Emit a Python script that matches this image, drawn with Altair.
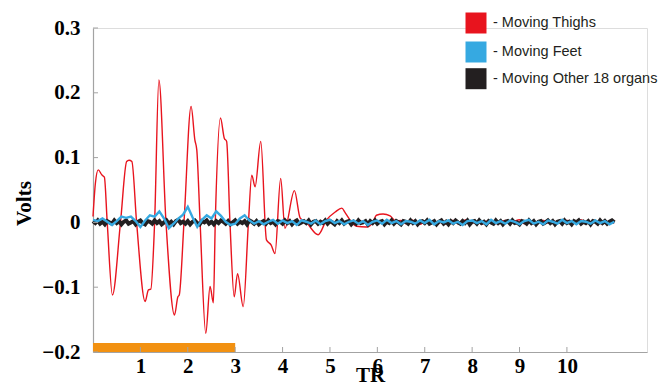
import altair as alt
import pandas as pd

# ---------------- data ----------------
series_names = ["- Moving Thighs", "- Moving Feet", "- Moving Other 18 organs"]
series_colors = ["#e8141e", "#36a9e1", "#231f20"]

x_ticks = [1, 2, 3, 4, 5, 6, 7, 8, 9, 10]
y_ticks = [-0.2, -0.1, 0.0, 0.1, 0.2, 0.3]

# stimulus bar (TR 0..3)
bar_x = [0.0]
bar_x2 = [3.0]
bar_y = [-0.2]
bar_y2 = [-0.186]

# red (thighs) key points
red_x = [0.0, 0.05, 0.11, 0.19, 0.24, 0.30, 0.41, 0.58, 0.71, 0.76, 0.82, 0.92,
         1.10, 1.17, 1.22, 1.30, 1.39, 1.54, 1.72, 1.79, 1.82, 1.92, 2.07, 2.15,
         2.19, 2.26, 2.38, 2.47, 2.54, 2.58, 2.69, 2.77, 2.82, 2.89, 2.98, 3.05,
         3.17, 3.28, 3.35, 3.42, 3.54, 3.66, 3.76, 3.84, 3.96, 4.05, 4.25, 4.37,
         4.51, 4.75, 4.93, 5.11, 5.25, 5.32, 5.42, 5.56, 5.77, 5.91, 5.98, 6.12,
         6.27, 6.39]
red_y = [0.009, 0.060, 0.081, 0.073, 0.070, 0.0, -0.112, 0.0, 0.094, 0.096, 0.094, 0.0,
         -0.122, -0.104, -0.103, 0.0, 0.220, 0.0, -0.143, -0.115, -0.112, 0.0, 0.179, 0.127,
         0.112, 0.0, -0.171, -0.099, -0.124, 0.0, 0.161, 0.130, 0.125, 0.0, -0.115, -0.079,
         -0.130, 0.0, 0.073, 0.055, 0.125, -0.027, -0.035, -0.048, 0.068, -0.009, 0.049, 0.007,
         -0.001, -0.019, 0.004, 0.016, 0.022, 0.015, 0.004, -0.006, -0.007, 0.001, 0.011, 0.013,
         0.010, 0.002]
# red tail, TR 6.5 .. 11.0 in steps of 0.1
red_tail = [0.003, -0.002, 0.004, 0.001, -0.003, 0.002, 0.003, -0.001, 0.002, -0.003,
            0.001, 0.003, -0.002, 0.002, 0.004, -0.001, 0.001, -0.003, 0.002, 0.003,
            -0.002, 0.001, 0.003, -0.001, 0.002, 0.004, -0.002, 0.001, -0.003, 0.002,
            0.003, -0.001, 0.002, 0.001, -0.002, 0.003, 0.002, -0.001, 0.004, -0.002,
            0.001, 0.003, -0.002, 0.002, 0.001, -0.001]

# blue (feet), TR 0.0 .. 11.0 in steps of 0.1
blue_y = [0.004, 0.002, 0.006, 0.001, -0.004, 0.002, 0.009, 0.007, 0.009, 0.002,
          -0.007, 0.003, 0.011, 0.009, 0.017, 0.006, -0.009, -0.002, 0.006, 0.012,
          0.024, 0.008, -0.007, 0.004, 0.011, 0.006, 0.017, 0.010, 0.001, -0.004,
          -0.002, 0.006, 0.011, 0.003, -0.002,
          0.002, -0.003, 0.001, 0.004, -0.002, 0.003, -0.001, 0.002, -0.004, 0.003,
          0.001, -0.002, 0.003, -0.003, 0.002, 0.004, -0.001, 0.002, -0.003, 0.001,
          0.003, -0.002, 0.002, -0.004, 0.001, 0.003, -0.002, 0.004, -0.001, 0.002,
          -0.003, 0.002, 0.001, -0.002, 0.003, -0.001, 0.004, -0.003, 0.002, 0.000,
          0.003, -0.002, 0.001, -0.004, 0.002, 0.003, -0.001, 0.002, -0.003, 0.004,
          -0.001, 0.002, -0.002, 0.003, 0.001, -0.003, 0.002, 0.004, -0.002, 0.001,
          -0.003, 0.003, 0.001, -0.002, 0.004, -0.001, 0.002, -0.003, 0.002, 0.001,
          -0.002, 0.003, -0.001, 0.002, -0.003, 0.001]

# black (other organs), TR 0.0 .. 11.0 in steps of 0.05
black_y = [0.002, -0.001, 0.003, -0.002, 0.001, -0.003, 0.002, 0.000, -0.002, 0.003,
           -0.001, 0.002, -0.003, 0.001, 0.003, -0.002, 0.000, 0.002, -0.003, 0.001,
           0.003, -0.001, -0.003, 0.002, 0.001, -0.002, 0.003, -0.001, 0.002, -0.003,
           0.000, 0.003, -0.002, 0.001, -0.003, 0.002, 0.004, -0.001, 0.001, -0.002,
           0.002, -0.003, 0.001, 0.003, -0.001, -0.003, 0.002, 0.000, 0.003, -0.002,
           0.001, -0.003, 0.002, -0.001, 0.003, 0.001, -0.002, 0.002, -0.003, 0.000,
           0.003, -0.002, 0.001, -0.001, 0.002, -0.003, 0.003, 0.001, -0.002, 0.002,
           -0.003, 0.000, 0.002, -0.002, 0.003, -0.001, 0.001, -0.003, 0.002, 0.001,
           -0.002, 0.003, -0.001, 0.002, -0.003, 0.001, 0.003, -0.002, 0.000, 0.002,
           -0.001, 0.003, -0.003, 0.001, 0.002, -0.002, 0.001, -0.001, 0.003, -0.002,
           0.002, 0.000, -0.003, 0.002, -0.001, 0.003, -0.002, 0.001, 0.002, -0.003,
           0.001, -0.002, 0.003, -0.001, 0.000, 0.002, -0.003, 0.002, -0.001, 0.003,
           -0.002, 0.001, 0.002, -0.003, 0.001, -0.001, 0.003, -0.002, 0.002, 0.000,
           -0.003, 0.002, 0.001, -0.002, 0.003, -0.001, 0.002, -0.003, 0.001, 0.002,
           -0.001, 0.003, -0.002, 0.000, 0.002, -0.003, 0.001, 0.003, -0.002, 0.001,
           -0.003, 0.002, -0.001, 0.003, 0.000, -0.002, 0.002, -0.001, 0.003, -0.003,
           0.001, 0.002, -0.002, 0.003, -0.001, 0.001, -0.003, 0.002, 0.000, -0.002,
           0.003, -0.001, 0.002, -0.003, 0.001, 0.002, -0.002, 0.003, -0.001, 0.000,
           -0.003, 0.002, 0.001, -0.002, 0.003, -0.001, 0.002, -0.003, 0.001, 0.002,
           -0.002, 0.000, 0.003, -0.001, 0.002, -0.003, 0.001, 0.002, -0.002, 0.003,
           -0.001, 0.001, -0.003, 0.002, 0.000, 0.003, -0.002, 0.001, -0.001, 0.002,
           -0.003, 0.002, 0.001, -0.002, 0.003, -0.001, 0.002, -0.002, 0.001, 0.003,
           0.000]

blue_x = [round(i * 0.1, 2) for i in range(len(blue_y))]
black_x = [round(i * 0.05, 2) for i in range(len(black_y))]
tail_x = [round(6.5 + i * 0.1, 2) for i in range(len(red_tail))]

red_df = pd.DataFrame({"x": red_x + tail_x, "y": red_y + red_tail})
blue_df = pd.DataFrame({"x": blue_x, "y": blue_y})
black_df = pd.DataFrame({"x": black_x, "y": black_y})
bar_df = pd.DataFrame({"x": bar_x, "x2": bar_x2, "y": bar_y, "y2": bar_y2})
xt_df = pd.DataFrame({"x": x_ticks})
yt_df = pd.DataFrame({"y": y_ticks})

# ---------------- style ----------------
W, H = 554, 324
AX = "#a3a3a3"
SERIF = "Liberation Serif"

xaxis = alt.Axis(values=x_ticks, title="TR", ticks=False, tickSize=0, grid=False,
                 domainColor=AX, domainWidth=1.2, labelFont=SERIF, labelFontWeight="bold",
                 labelFontSize=21, labelColor="black", labelPadding=20,
                 labelBaseline="alphabetic", labelOverlap=False, labelFlush=False,
                 titleFont=SERIF, titleFontSize=21, titleFontWeight="bold",
                 titleColor="black", titleY=29, titleBaseline="alphabetic")
yaxis = alt.Axis(values=y_ticks, title="Volts", ticks=False, tickSize=0, grid=False,
                 domainColor=AX, domainWidth=1.2, labelFont=SERIF, labelFontWeight="bold",
                 labelFontSize=21, labelColor="black", labelPadding=13,
                 labelOverlap=False, labelFlush=False,
                 labelExpr="datum.value == 0 ? '0' : format(datum.value, '.1f')",
                 titleFont=SERIF, titleFontSize=21, titleFontWeight="bold",
                 titleColor="black", titleX=-69, titleY=175, titleAngle=270,
                 titleAlign="center", titleBaseline="middle")

xs = alt.Scale(domain=[0, 11.69], nice=False, zero=False)
ys = alt.Scale(domain=[-0.2, 0.3], nice=False, zero=False)


def X(f="x"):
    return alt.X(f + ":Q", scale=xs, axis=xaxis)


def Y(f="y"):
    return alt.Y(f + ":Q", scale=ys, axis=yaxis)


bar = alt.Chart(bar_df).mark_rect(color="#f29111").encode(
    x=X(), x2="x2:Q", y=Y(), y2="y2:Q")

red = alt.Chart(red_df).mark_line(color=series_colors[0], strokeWidth=1.4,
                                  interpolate="monotone").encode(x=X(), y=Y())
black = alt.Chart(black_df).mark_line(color=series_colors[2], strokeWidth=4).encode(
    x=X(), y=Y())
blue = alt.Chart(blue_df).mark_line(color=series_colors[1], strokeWidth=2.4).encode(
    x=X(), y=Y())

xtick = alt.Chart(xt_df).mark_rule(color=AX, strokeWidth=1).encode(
    x=X(), y=alt.value(H - 5), y2=alt.value(H))
ytick = alt.Chart(yt_df).mark_rule(color=AX, strokeWidth=1).encode(
    y=Y(), x=alt.value(0), x2=alt.value(5))

legend_rows = [-5, 24, 50.7]
legend_layers = []
for name, col, ry in zip(series_names, series_colors, legend_rows):
    ldf = pd.DataFrame({"label": [name]})
    legend_layers.append(
        alt.Chart(ldf).mark_square(size=441, opacity=1, color=col).encode(
            x=alt.value(383), y=alt.value(ry)))
    legend_layers.append(
        alt.Chart(ldf).mark_text(align="left", baseline="middle", font="Liberation Sans",
                                 fontSize=14.5, color="#231f20").encode(
            x=alt.value(400), y=alt.value(ry), text="label:N"))

chart = alt.layer(bar, red, black, blue, xtick, ytick, *legend_layers).properties(
    width=W, height=H,
    padding={"left": 85, "top": 20, "right": 13, "bottom": 35},
    autosize=alt.AutoSizeParams(type="none"),
).configure_view(stroke=None).configure(background="white")

chart.save("out.html", embed_options={"renderer": "svg", "actions": False})
